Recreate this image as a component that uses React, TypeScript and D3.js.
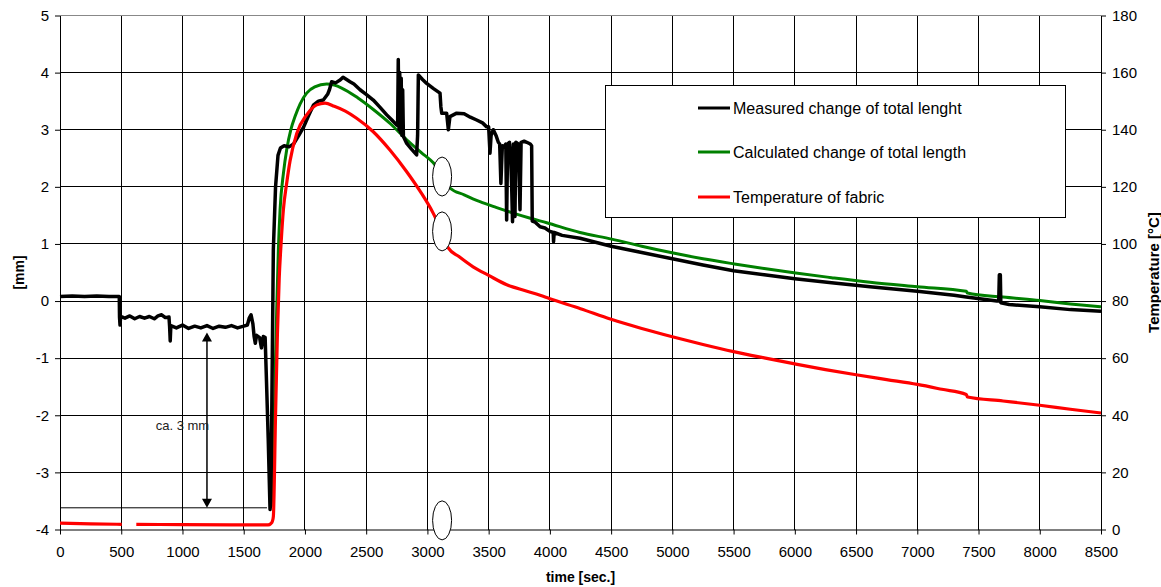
// Längenänderung und Temperatur des Gewebes über die Zeit
import React, { useRef, useEffect } from 'react';
import * as d3 from 'd3';

// gemessene Längenänderung [s, mm]
const measured: [number, number][] = [
  [0, 0.08], [100, 0.09], [200, 0.08], [300, 0.09], [400, 0.08], [484, 0.08],
  [486, -0.28], [490, -0.42], [495, -0.27], [530, -0.3], [570, -0.26], [610, -0.31],
  [650, -0.27], [690, -0.3], [730, -0.27], [770, -0.31], [800, -0.26], [830, -0.24],
  [860, -0.29], [890, -0.28], [895, -0.45], [900, -0.7], [905, -0.43], [950, -0.47],
  [1000, -0.42], [1050, -0.48], [1100, -0.44], [1150, -0.47], [1200, -0.43], [1250, -0.48],
  [1300, -0.44], [1350, -0.46], [1400, -0.43], [1450, -0.47], [1500, -0.44], [1530, -0.42],
  [1545, -0.3], [1560, -0.24], [1575, -0.4], [1585, -0.62], [1595, -0.74], [1605, -0.6],
  [1630, -0.64], [1645, -0.82], [1660, -0.62], [1675, -0.64], [1686, -1.4], [1700, -2.4],
  [1715, -3.65], [1722, -3.5], [1729, -2.0], [1742, 0.9], [1760, 2.0], [1780, 2.55],
  [1800, 2.68], [1830, 2.72], [1870, 2.7], [1907, 2.75], [1950, 2.9], [1990, 3.05],
  [2030, 3.25], [2069, 3.43], [2110, 3.5], [2150, 3.52], [2185, 3.62], [2200, 3.7],
  [2218, 3.84], [2250, 3.82], [2287, 3.87], [2311, 3.92], [2340, 3.88], [2368, 3.84],
  [2400, 3.8], [2450, 3.7], [2500, 3.62], [2558, 3.52], [2610, 3.4], [2668, 3.26],
  [2710, 3.17], [2750, 3.08], [2757, 3.1], [2762, 4.23], [2768, 3.0], [2774, 4.0],
  [2780, 2.95], [2786, 3.9], [2792, 2.9], [2798, 3.7], [2804, 2.88], [2831, 2.76],
  [2870, 2.66], [2912, 2.56], [2920, 2.9], [2926, 3.96], [2960, 3.88], [2994, 3.81],
  [3050, 3.72], [3103, 3.64], [3110, 3.4], [3117, 3.29], [3157, 3.29], [3171, 3.0],
  [3184, 3.23], [3239, 3.29], [3300, 3.28], [3350, 3.22], [3402, 3.17], [3450, 3.12],
  [3484, 3.05], [3500, 3.05], [3511, 2.59], [3520, 2.9], [3538, 3.0], [3560, 2.9],
  [3579, 2.78], [3590, 2.75], [3600, 2.06], [3606, 2.4], [3612, 2.72], [3625, 2.7],
  [3640, 2.75], [3647, 1.42], [3655, 2.75], [3670, 2.78], [3680, 2.5], [3688, 2.0],
  [3695, 1.39], [3702, 2.75], [3715, 1.48], [3722, 2.78], [3742, 2.75], [3756, 1.6],
  [3765, 2.78], [3790, 2.8], [3811, 2.78], [3840, 2.75], [3851, 2.72], [3856, 1.4],
  [3880, 1.38], [3920, 1.3], [3960, 1.28], [4000, 1.22], [4027, 1.2], [4030, 1.04],
  [4035, 1.2], [4100, 1.15], [4246, 1.1], [4500, 0.96], [4750, 0.85], [5000, 0.74],
  [5250, 0.63], [5500, 0.53], [5750, 0.46], [6000, 0.39], [6300, 0.32], [6614, 0.25],
  [7000, 0.17], [7300, 0.1], [7400, 0.07], [7650, 0.0], [7665, 0.0], [7670, 0.46],
  [7678, 0.46], [7682, -0.03], [7750, -0.06], [8000, -0.1], [8250, -0.15], [8500, -0.18],
];

// berechnete Längenänderung [s, mm]
const calculated: [number, number][] = [
  [1725, -3.6], [1745, -2.4], [1756, -1.38], [1770, -0.1], [1783, 0.9], [1797, 1.6],
  [1825, 2.25], [1851, 2.65], [1885, 3.0], [1919, 3.23], [1960, 3.45], [2014, 3.64],
  [2080, 3.75], [2178, 3.8], [2240, 3.78], [2300, 3.73], [2430, 3.56], [2561, 3.35],
  [2700, 3.1], [2833, 2.82], [2950, 2.6], [3048, 2.42], [3100, 2.28], [3140, 2.12],
  [3184, 1.98], [3300, 1.86], [3429, 1.74], [3560, 1.64], [3701, 1.54], [3840, 1.45],
  [3974, 1.37], [4246, 1.2], [4505, 1.085], [4750, 0.96], [5008, 0.84], [5250, 0.74],
  [5507, 0.65], [5750, 0.57], [6007, 0.49], [6300, 0.41], [6614, 0.33], [7000, 0.25],
  [7400, 0.17], [7410, 0.14], [7700, 0.07], [8000, 0.01], [8250, -0.05], [8500, -0.1],
];

// Temperatur des Gewebes [s, °C], null = Lücke
const temperature: [number, number | null][] = [
  [0, 2.2], [250, 2.0], [504, 1.8], [560, null], [623, 1.8], [1000, 1.7], [1400, 1.6],
  [1700, 1.6], [1720, 2], [1735, 3], [1742, 4.5], [1760, 40], [1775, 68], [1790, 88],
  [1805, 100], [1824, 112], [1850, 121], [1878, 129], [1933, 138.7], [2014, 145.2],
  [2096, 148.7], [2164, 149.3], [2240, 148.2], [2330, 146.5], [2422, 144], [2558, 139.3],
  [2694, 132.9], [2831, 125.3], [2940, 118.5], [3048, 110.7], [3100, 106], [3140, 101],
  [3170, 98.6], [3260, 95.5], [3373, 92], [3500, 89], [3648, 85.7], [3800, 83.6],
  [3920, 82.0], [4000, 80.8], [4250, 77.3], [4500, 73.6], [4750, 70.4], [5000, 67.5],
  [5250, 64.8], [5500, 62.3], [5750, 60.1], [6000, 58.0], [6250, 56.0], [6500, 54.2],
  [6750, 52.5], [7000, 50.8], [7200, 49.1], [7400, 47.3], [7410, 46.4], [7700, 45],
  [8000, 43.5], [8250, 42.1], [8500, 40.8],
];

const timeTicks = [0, 500, 1000, 1500, 2000, 2500, 3000, 3500, 4000, 4500, 5000, 5500, 6000, 6500, 7000, 7500, 8000, 8500];
const mmTicks = [-4, -3, -2, -1, 0, 1, 2, 3, 4, 5];
const tempTicks = [0, 20, 40, 60, 80, 100, 120, 140, 160, 180];
const seriesNames = ['Measured change of total lenght', 'Calculated change of total length', 'Temperature of fabric'];

// Markierungen: Lücke ca. 3 mm, Ellipsen bei t = 3120 s
const gapLevel = -3.62;
const gapEnd = 1690;
const arrowTime = 1200;
const arrowTop = -0.55;
const breakTime = 3120;
const breakLevels = [2.18, 1.22, -3.84];

const App = () => {
  const ref = useRef<SVGSVGElement>(null);

  useEffect(() => {
    const svg = d3.select(ref.current);
    svg.selectAll('*').remove();
    const font = '"Liberation Sans", Arial, Helvetica, sans-serif';
    const colors = ['#000000', '#008000', '#ff0000'];

    const x = d3.scaleLinear().domain([0, 8500]).range([60, 1101]);
    const yL = d3.scaleLinear().domain([-4, 5]).range([529.5, 15.5]);
    const yR = d3.scaleLinear().domain([0, 180]).range([529.5, 15.5]);

    svg.append('rect').attr('width', 1161).attr('height', 587).attr('fill', '#fff');

    // Gitternetz
    const grid = svg.append('g').attr('shape-rendering', 'crispEdges');
    grid.selectAll('line.v')
      .data(timeTicks.slice(1, -1))
      .join('line')
      .attr('x1', d => x(d)).attr('x2', d => x(d))
      .attr('y1', yL(5)).attr('y2', yL(-4))
      .attr('stroke', '#000');
    grid.selectAll('line.h')
      .data(mmTicks.slice(1))
      .join('line')
      .attr('x1', x(0)).attr('x2', x(8500))
      .attr('y1', d => yL(d)).attr('y2', d => yL(d))
      .attr('stroke', d => (d === 5 ? '#888' : '#000'));

    // Achsen (normale Bindestriche statt Unicode-Minus)
    const plain = (d: any) => String(d);
    const styleAxis = (g: any) => {
      g.select('.domain').attr('stroke', '#000');
      g.selectAll('.tick line').attr('stroke', '#000');
      g.selectAll('text').attr('font-family', font).attr('font-size', 15).attr('fill', '#000');
    };
    svg.append('g')
      .attr('transform', `translate(${x(0)},0)`)
      .call(d3.axisLeft(yL).tickValues(mmTicks).tickSize(5).tickSizeOuter(0).tickPadding(6).tickFormat(plain))
      .call(styleAxis);
    svg.append('g')
      .attr('transform', `translate(0,${yL(-4)})`)
      .call(d3.axisBottom(x).tickValues(timeTicks).tickSize(5).tickSizeOuter(0).tickPadding(12).tickFormat(plain))
      .call(styleAxis);
    svg.append('g')
      .attr('transform', `translate(${x(8500)},0)`)
      .call(d3.axisRight(yR).tickValues(tempTicks).tickSize(5).tickSizeOuter(0).tickPadding(6).tickFormat(plain))
      .call(styleAxis);

    // Achsentitel
    svg.append('text')
      .attr('transform', `translate(19,${yL(0.5)}) rotate(-90)`)
      .attr('text-anchor', 'middle').attr('dominant-baseline', 'central')
      .attr('font-family', font).attr('font-size', 14).attr('font-weight', 'bold')
      .text('[mm]');
    svg.append('text')
      .attr('transform', `translate(1153,${yL(0.5)}) rotate(-90)`)
      .attr('text-anchor', 'middle').attr('dominant-baseline', 'central')
      .attr('font-family', font).attr('font-size', 15).attr('font-weight', 'bold')
      .text('Temperature [°C]');
    svg.append('text')
      .attr('x', x(4250)).attr('y', 582)
      .attr('text-anchor', 'middle')
      .attr('font-family', font).attr('font-size', 14).attr('font-weight', 'bold')
      .text('time [sec.]');

    // Kurven
    const mmLine = d3.line<[number, number]>().x(d => x(d[0])).y(d => yL(d[1]));
    const tempLine = d3.line<[number, number | null]>()
      .defined(d => d[1] !== null)
      .x(d => x(d[0]))
      .y(d => yR(d[1] as number))
      .curve(d3.curveMonotoneX);

    svg.append('path').datum(calculated)
      .attr('d', mmLine.curve(d3.curveMonotoneX))
      .attr('fill', 'none').attr('stroke', colors[1]).attr('stroke-width', 3);
    svg.append('path').datum(measured)
      .attr('d', d3.line<[number, number]>().x(d => x(d[0])).y(d => yL(d[1])))
      .attr('fill', 'none').attr('stroke', colors[0]).attr('stroke-width', 3.5)
      .attr('stroke-linejoin', 'round');
    svg.append('path').datum(temperature)
      .attr('d', tempLine)
      .attr('fill', 'none').attr('stroke', colors[2]).attr('stroke-width', 3.2);

    // Markierung "ca. 3 mm"
    const ann = svg.append('g').attr('stroke', '#000');
    ann.append('line')
      .attr('x1', x(0)).attr('x2', x(gapEnd))
      .attr('y1', yL(gapLevel)).attr('y2', yL(gapLevel))
      .attr('stroke-width', 1);
    const ax = x(arrowTime);
    ann.append('line')
      .attr('x1', ax).attr('x2', ax)
      .attr('y1', yL(arrowTop) + 6).attr('y2', yL(gapLevel) - 6)
      .attr('stroke-width', 1.5);
    ann.append('path')
      .attr('d', `M${ax},${yL(arrowTop)} l-5,9 l10,0 Z M${ax},${yL(gapLevel)} l-5,-9 l10,0 Z`)
      .attr('fill', '#000').attr('stroke', 'none');
    svg.append('text')
      .attr('x', x(1000)).attr('y', yL(-2.18))
      .attr('text-anchor', 'middle').attr('dominant-baseline', 'central')
      .attr('font-family', font).attr('font-size', 13).attr('fill', '#222')
      .text('ca. 3 mm');

    // Ellipsen (Unterbrechung)
    svg.selectAll('ellipse')
      .data(breakLevels)
      .join('ellipse')
      .attr('cx', x(breakTime)).attr('cy', d => yL(d))
      .attr('rx', 9.5).attr('ry', 19.5)
      .attr('fill', '#fff').attr('stroke', '#000').attr('stroke-width', 1);

    // Legende
    const legend = svg.append('g');
    legend.append('rect')
      .attr('x', 605.5).attr('y', 85.5).attr('width', 460).attr('height', 132)
      .attr('fill', '#fff').attr('stroke', '#000').attr('stroke-width', 1);
    const rowY = [108, 152, 197];
    seriesNames.forEach((name, i) => {
      legend.append('line')
        .attr('x1', 698).attr('x2', 730).attr('y1', rowY[i]).attr('y2', rowY[i])
        .attr('stroke', colors[i]).attr('stroke-width', 3);
      legend.append('text')
        .attr('x', 733).attr('y', rowY[i])
        .attr('dominant-baseline', 'central')
        .attr('font-family', font).attr('font-size', 16).attr('fill', '#000')
        .text(name);
    });
  }, []);

  return (
    <svg ref={ref} width={1161} height={587} style={{ position: 'absolute', left: 0, top: 0 }} />
  );
};

export default App;
